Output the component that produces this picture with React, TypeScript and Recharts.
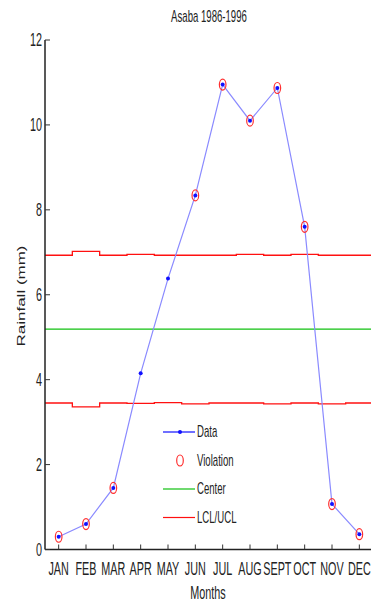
import React from 'react';
import { ComposedChart, Line, Scatter, XAxis, YAxis } from 'recharts';

// Monthly rainfall, Asaba 1986-1996
const months = ['JAN', 'FEB', 'MAR', 'APR', 'MAY', 'JUN', 'JUL', 'AUG', 'SEPT', 'OCT', 'NOV', 'DEC'];
const rainfall = [0.3, 0.6, 1.45, 4.15, 6.38, 8.34, 10.95, 10.1, 10.87, 7.6, 1.07, 0.36];
const violation = [true, true, true, false, false, true, true, true, true, true, true, true];
const ucl = [6.93, 7.02, 6.93, 6.95, 6.93, 6.93, 6.93, 6.95, 6.93, 6.95, 6.93, 6.93];
const lcl = [3.45, 3.36, 3.45, 3.44, 3.46, 3.43, 3.45, 3.45, 3.43, 3.45, 3.43, 3.45];
const center = 5.19;
const yTicks = [0, 2, 4, 6, 8, 10, 12];

const FONT = '"Liberation Sans", Arial, sans-serif';
const SX = 0.6; // the original is squeezed sideways

// points on the month centres
const dataPts = months.map((m, i) => ({ x: i + 1, rain: rainfall[i] }));
const violPts = dataPts.filter((_, i) => violation[i]);
// step lines span each month from x-0.5 to x+0.5
const limitPts = [...months, 'end'].map((_, i) => {
    const k = Math.min(i, months.length - 1);
    return { x: i + 0.5, ucl: ucl[k], lcl: lcl[k], center };
});

const Squeezed = ({ x, y, text, size, anchor = 'middle', rotate = false }: any) => (
    <text
        transform={`translate(${x},${y}) scale(${SX},1)${rotate ? ' rotate(-90)' : ''}`}
        textAnchor={anchor}
        dominantBaseline="central"
        fontFamily={FONT}
        fontSize={size}
        fill="#222"
    >
        {text}
    </text>
);

const BottomTick = ({ x, y, payload }: any) => (
    <g>
        <line x1={x} x2={x} y1={y} y2={y - 5} stroke="#333" />
        <Squeezed x={x} y={y + 19} text={months[payload.value - 1]} size={18} />
    </g>
);

const TopTick = ({ x, y }: any) => (
    <line x1={x} x2={x} y1={y} y2={y + 5} stroke="#333" />
);

const LeftTick = ({ x, y, payload }: any) => (
    <g>
        <line x1={x} x2={x + 5} y1={y} y2={y} stroke="#333" />
        <Squeezed x={x - 3} y={y} text={String(payload.value)} size={18} anchor="end" />
    </g>
);

const ViolationMark = ({ cx, cy }: any) => (
    <ellipse cx={cx} cy={cy} rx={3.3} ry={5.5} fill="none" stroke="#ff3030" strokeWidth={1.2} />
);

const DataDot = ({ cx, cy }: any) => <circle cx={cx} cy={cy} r={2} fill="#1010ff" />;

const legendRows = [
    { name: 'Data', color: '#1010ff', line: true },
    { name: 'Violation', color: '#ff3030', line: false },
    { name: 'Center', color: '#10c010', line: true },
    { name: 'LCL/UCL', color: '#ff1010', line: true },
];

const LegendBox = () => (
    <svg width={110} height={110} style={{ position: 'absolute', left: 163, top: 424 }}>
        {legendRows.map((r, i) => {
            const cy = 8 + i * 28.5;
            return (
                <g key={r.name}>
                    {r.line && <line x1={0} x2={32} y1={cy} y2={cy} stroke={r.color} strokeWidth={1.2} />}
                    {r.name === 'Data' && <circle cx={17} cy={cy} r={2} fill={r.color} />}
                    {r.name === 'Violation' && (
                        <ellipse cx={17} cy={cy} rx={3.3} ry={5.5} fill="none" stroke={r.color} strokeWidth={1.2} />
                    )}
                    <Squeezed x={34} y={cy} text={r.name} size={16} anchor="start" />
                </g>
            );
        })}
    </svg>
);

export default function App() {
    return (
        <div style={{ position: 'absolute', left: 0, top: 0, width: 371, height: 603, background: '#fff' }}>
            <svg width={371} height={32} style={{ position: 'absolute', left: 0, top: 0 }}>
                <Squeezed x={209} y={17} text="Asaba 1986-1996" size={16} />
            </svg>
            <ComposedChart
                width={371}
                height={603}
                margin={{ top: 40, right: -2, left: 0, bottom: 0 }}
            >
                <XAxis
                    xAxisId="b"
                    type="number"
                    dataKey="x"
                    domain={[0.5, 12.5]}
                    ticks={months.map((_, i) => i + 1)}
                    tick={<BottomTick />}
                    tickLine={false}
                    tickSize={0}
                    tickMargin={0}
                    axisLine={{ stroke: '#222', strokeWidth: 1.5 }}
                    height={53.5}
                    interval={0}
                    allowDataOverflow
                    label={{ value: 'Months', content: () => (
                        <Squeezed x={208} y={593} text="Months" size={18} />
                    ) }}
                />
                <XAxis
                    xAxisId="t"
                    orientation="top"
                    type="number"
                    dataKey="x"
                    domain={[0.5, 12.5]}
                    ticks={months.map((_, i) => i + 1)}
                    tick={<TopTick />}
                    tickLine={false}
                    tickSize={0}
                    tickMargin={0}
                    axisLine={{ stroke: '#222', strokeWidth: 1.5 }}
                    height={0}
                    interval={0}
                    allowDataOverflow
                />
                <YAxis
                    type="number"
                    domain={[0, 12]}
                    ticks={yTicks}
                    tick={<LeftTick />}
                    tickLine={false}
                    tickSize={0}
                    tickMargin={0}
                    axisLine={{ stroke: '#222', strokeWidth: 1.5 }}
                    width={45}
                    interval={0}
                    label={{ value: 'Rainfall (mm)', content: () => (
                        <Squeezed x={21} y={296} text="Rainfall (mm)" size={17} rotate />
                    ) }}
                />
                <Line xAxisId="b" data={limitPts} dataKey="ucl" type="stepAfter" stroke="#ff1010" strokeWidth={1.3} dot={false} isAnimationActive={false} />
                <Line xAxisId="b" data={limitPts} dataKey="lcl" type="stepAfter" stroke="#ff1010" strokeWidth={1.3} dot={false} isAnimationActive={false} />
                <Line xAxisId="b" data={limitPts} dataKey="center" type="linear" stroke="#10c010" strokeWidth={1.3} dot={false} isAnimationActive={false} />
                <Line xAxisId="b" data={dataPts} dataKey="rain" type="linear" stroke="#8a8aff" strokeWidth={1.2} dot={<DataDot />} isAnimationActive={false} />
                <Scatter xAxisId="b" data={violPts} dataKey="rain" shape={<ViolationMark />} isAnimationActive={false} />
            </ComposedChart>
            <LegendBox />
        </div>
    );
}
